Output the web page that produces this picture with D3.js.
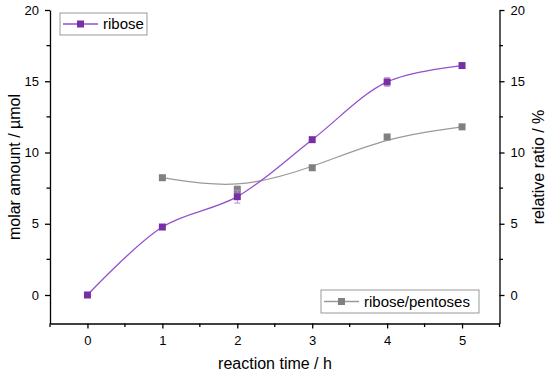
<!DOCTYPE html>
<html><head><meta charset="utf-8">
<script src="https://cdn.jsdelivr.net/npm/d3@7"></script>
<style>body{margin:0;background:#fff}svg{display:block;font-family:Arial,"Liberation Sans",sans-serif}</style>
</head><body><svg id="c" width="550" height="376"></svg>
<script>
const times = [0, 1, 2, 3, 4, 5];
const ribose = [0, 4.77, 6.9, 10.9, 14.95, 16.1];
const riboseErr = [0, 0.1, 0.45, 0.1, 0.3, 0.1];
const ratioTimes = [1, 2, 3, 4, 5];
const ratio = [8.23, 7.4, 8.93, 11.09, 11.8];
const ratioErr = [0, 0.25, 0, 0, 0];
const xTicks = [0, 1, 2, 3, 4, 5];
const yTicks = [0, 5, 10, 15, 20];
const seriesNames = ["ribose", "ribose/pentoses"];

const svg = d3.select("#c");
const x = d3.scaleLinear().domain([-0.5, 5.5]).range([50, 499.5]);
const yL = d3.scaleLinear().domain([-2, 20]).range([323.5, 10]);
const yR = d3.scaleLinear().domain([-2, 20]).range([323.5, 10]);

const purpleM = "#7630a3", purpleL = "#9450cc", greyM = "#808080", greyL = "#9a9a9a";

function styleAxis(g){
  g.selectAll("path").attr("stroke","#000").attr("stroke-width",1.3);
  g.selectAll("line").attr("stroke","#000").attr("stroke-width",1.3);
  g.selectAll("text").attr("font-size",13).attr("fill","#000").attr("font-family","Arial, 'Liberation Sans', sans-serif");
}
const minorX = d3.range(-0.5, 5.51, 0.5).filter(v => !xTicks.includes(v));
const minorY = d3.range(-2.5, 20.1, 2.5).filter(v => v >= -2 && !yTicks.includes(v));

const gx = svg.append("g").attr("transform","translate(0,323.5)")
  .call(d3.axisBottom(x).tickValues(xTicks).tickSize(5).tickPadding(7).tickSizeOuter(0).tickFormat(d3.format("d")));
styleAxis(gx);
gx.selectAll(".minor").data(minorX).enter().append("line").attr("x1",d=>x(d)).attr("x2",d=>x(d)).attr("y1",0).attr("y2",3.5).attr("stroke","#000").attr("stroke-width",1.3);

const gl = svg.append("g").attr("transform","translate(50,0)")
  .call(d3.axisLeft(yL).tickValues(yTicks).tickSize(5).tickPadding(6).tickSizeOuter(0));
styleAxis(gl);
gl.selectAll(".minor").data(minorY).enter().append("line").attr("y1",d=>yL(d)).attr("y2",d=>yL(d)).attr("x1",0).attr("x2",-3.5).attr("stroke","#000").attr("stroke-width",1.3);

const gr = svg.append("g").attr("transform","translate(499.5,0)")
  .call(d3.axisRight(yR).tickValues(yTicks).tickSize(5).tickPadding(6).tickSizeOuter(0));
styleAxis(gr);
gr.selectAll(".minor").data(minorY).enter().append("line").attr("y1",d=>yR(d)).attr("y2",d=>yR(d)).attr("x1",0).attr("x2",3.5).attr("stroke","#000").attr("stroke-width",1.3);

svg.append("text").attr("x",275).attr("y",369).attr("text-anchor","middle").attr("font-size",16).text("reaction time / h");
svg.append("text").attr("transform","translate(20,167) rotate(-90)").attr("text-anchor","middle").attr("font-size",16).text("molar amount / µmol");
svg.append("text").attr("transform","translate(544,167) rotate(-90)").attr("text-anchor","middle").attr("font-size",16).text("relative ratio / %");

const rData = ratioTimes.map((t,i)=>({t, v:ratio[i], e:ratioErr[i]}));
svg.append("path").datum(rData).attr("fill","none").attr("stroke",greyL).attr("stroke-width",1.3)
  .attr("d", d3.line().x(d=>x(d.t)).y(d=>yR(d.v)).curve(d3.curveBasis));
rData.filter(d=>d.e>0).forEach(d=>{
  const g = svg.append("g").attr("stroke","#b0b0b0").attr("stroke-width",1);
  g.append("line").attr("x1",x(d.t)).attr("x2",x(d.t)).attr("y1",yR(d.v-d.e)).attr("y2",yR(d.v+d.e));
  g.append("line").attr("x1",x(d.t)-3).attr("x2",x(d.t)+3).attr("y1",yR(d.v+d.e)).attr("y2",yR(d.v+d.e));
});
svg.selectAll(".rm").data(rData).enter().append("rect")
  .attr("x",d=>x(d.t)-3.5).attr("y",d=>yR(d.v)-3.5).attr("width",7).attr("height",7).attr("fill",greyM);

const bData = times.map((t,i)=>({t, v:ribose[i], e:riboseErr[i]}));
svg.append("path").datum(bData).attr("fill","none").attr("stroke",purpleL).attr("stroke-width",1.3)
  .attr("d", d3.line().x(d=>x(d.t)).y(d=>yL(d.v)).curve(d3.curveCatmullRom));
bData.filter(d=>d.e>0.2).forEach(d=>{
  const g = svg.append("g").attr("stroke","#b98ad8").attr("stroke-width",1);
  g.append("line").attr("x1",x(d.t)).attr("x2",x(d.t)).attr("y1",yL(d.v-d.e)).attr("y2",yL(d.v+d.e));
  g.append("line").attr("x1",x(d.t)-3).attr("x2",x(d.t)+3).attr("y1",yL(d.v-d.e)).attr("y2",yL(d.v-d.e));
  g.append("line").attr("x1",x(d.t)-3).attr("x2",x(d.t)+3).attr("y1",yL(d.v+d.e)).attr("y2",yL(d.v+d.e));
});
svg.selectAll(".bm").data(bData).enter().append("rect")
  .attr("x",d=>x(d.t)-3.5).attr("y",d=>yL(d.v)-3.5).attr("width",7).attr("height",7).attr("fill",purpleM);

function legend(x0,y0,w,h,name,lc,mc){
  const g = svg.append("g");
  g.append("rect").attr("x",x0).attr("y",y0).attr("width",w).attr("height",h).attr("fill","#fff").attr("stroke","#999").attr("stroke-width",1);
  g.append("line").attr("x1",x0+3).attr("x2",x0+38).attr("y1",y0+h/2).attr("y2",y0+h/2).attr("stroke",lc).attr("stroke-width",1.3);
  g.append("rect").attr("x",x0+17).attr("y",y0+h/2-3.5).attr("width",7).attr("height",7).attr("fill",mc);
  g.append("text").attr("x",x0+43).attr("y",y0+h/2+5).attr("font-size",15).text(name);
}
legend(60,13,87,22,seriesNames[0],purpleL,purpleM);
legend(321,290,158,23,seriesNames[1],greyL,greyM);
</script></body></html>
